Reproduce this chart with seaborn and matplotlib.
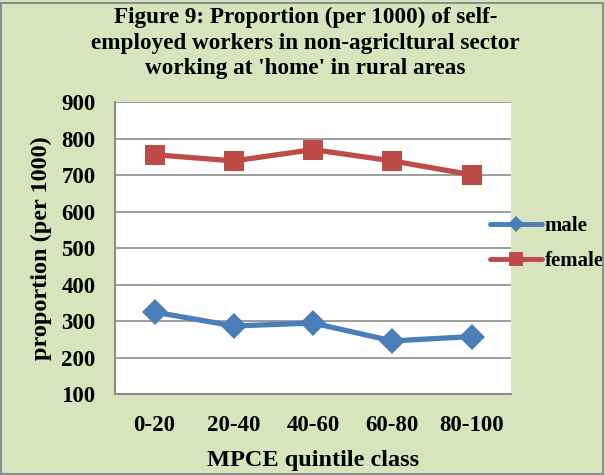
import pandas as pd
import matplotlib.pyplot as plt
import seaborn as sns
from matplotlib.patches import Rectangle

# values
classes = ["0-20", "20-40", "40-60", "60-80", "80-100"]
male = [325, 287, 295, 246, 258]
female = [756, 739, 770, 739, 701]

df = pd.DataFrame({
    "pos": list(range(len(classes))) * 2,
    "value": male + female,
    "sex": ["male"] * len(classes) + ["female"] * len(classes),
})

sns.set_style("white")
plt.rcParams["font.family"] = ["Liberation Serif", "DejaVu Serif"]
plt.rcParams["font.weight"] = "bold"
plt.rcParams["text.color"] = "black"
plt.rcParams["axes.labelcolor"] = "black"
plt.rcParams["xtick.labelcolor"] = "black"
plt.rcParams["ytick.labelcolor"] = "black"

bg = "#d8e4bc"
fig = plt.figure(figsize=(6.05, 4.75), dpi=100, facecolor=bg)
fig.patches.append(Rectangle((0.002, 0.002), 0.994, 0.992, transform=fig.transFigure,
                             fill=False, edgecolor="#8c8c8c", linewidth=1.5))
ax = fig.add_axes([0.19, 0.17, 0.655, 0.615])
ax.set_facecolor("white")

sns.lineplot(data=df, x="pos", y="value", hue="sex", style="sex",
             palette={"male": "#4a7ebb", "female": "#be4b48"},
             markers={"male": "D", "female": "s"}, dashes=False,
             linewidth=3.8, markersize=15, markeredgewidth=0, ax=ax)
for ln in ax.lines:
    if ln.get_marker() == "D":
        ln.set_markersize(13)

ax.set_ylim(100, 900)
ax.set_yticks(range(100, 1000, 100))
ax.set_xlim(-0.5, len(classes) - 0.5)
ax.set_xticks(range(len(classes)))
ax.set_xticklabels(classes)
ax.set_xticks([i - 0.5 for i in range(len(classes) + 1)], minor=True)
ax.tick_params(axis="x", which="major", length=0, labelsize=16.5, pad=15)
ax.tick_params(axis="x", which="minor", length=5, color="#8c8c8c", width=1.2, direction="out")
ax.tick_params(axis="y", length=5, color="#8c8c8c", width=1.2, direction="out", labelsize=16.5, pad=9)
ax.yaxis.grid(True, color="#8c8c8c", linewidth=1.2)
ax.set_axisbelow(True)
for s in ["top", "right"]:
    ax.spines[s].set_visible(False)
for s in ["left", "bottom"]:
    ax.spines[s].set_color("#8c8c8c")
    ax.spines[s].set_linewidth(1.5)

ax.set_xlabel("MPCE quintile class", fontsize=17.5, fontweight="bold", labelpad=10)
ax.set_ylabel("proportion (per 1000)", fontsize=17.5, fontweight="bold", labelpad=7)

fig.text(0.505, 0.985, "Figure 9: Proportion (per 1000) of self-\nemployed workers in non-agricltural sector\nworking at 'home' in rural areas",
         ha="center", va="top", fontsize=16.7, fontweight="bold", linespacing=1.27)

handles, labels = ax.get_legend_handles_labels()
leg = ax.legend(handles, labels, loc="center left", bbox_to_anchor=(0.793, 0.487),
                bbox_transform=fig.transFigure, frameon=False, fontsize=15, borderpad=0,
                handlelength=2.5, handletextpad=0.1, labelspacing=0.75)
for t in leg.get_texts():
    t.set_fontweight("bold")
    t.set_color("black")
for h in leg.legend_handles:
    h.set_markersize(8 if h.get_marker() == "D" else 10)
    h.set_linewidth(3.5)

plt.savefig("out.png", dpi=100, facecolor=bg)
